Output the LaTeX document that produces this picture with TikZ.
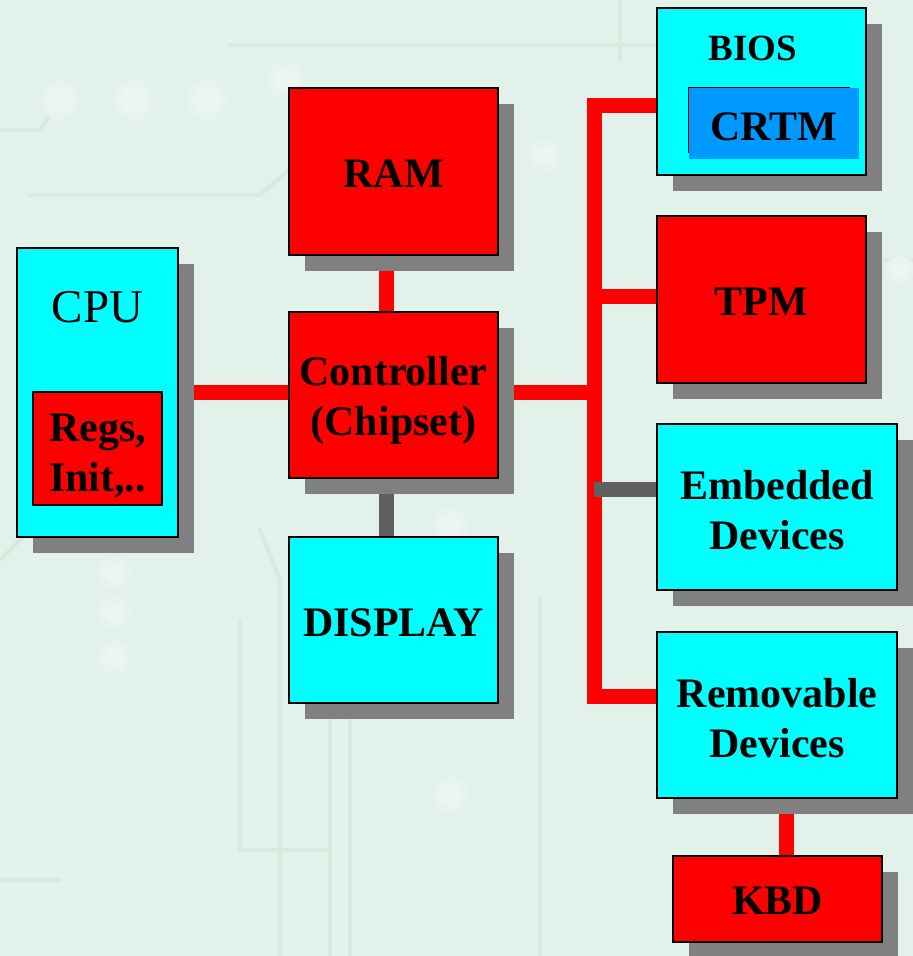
\documentclass[tikz,border=0pt]{standalone}
\usepackage{fontspec}
\setmainfont{Liberation Serif}
\usetikzlibrary{shadows,calc}
\pgfdeclarelayer{bg}
\pgfdeclarelayer{conn}
\pgfsetlayers{bg,conn,main}
\definecolor{bgc}{RGB}{226,242,234}
\definecolor{tracec}{RGB}{217,233,224}
\definecolor{padc}{RGB}{236,246,240}
\definecolor{padhalo}{RGB}{231,244,237}
\definecolor{cyanc}{RGB}{0,255,255}
\definecolor{redc}{RGB}{255,0,0}
\definecolor{crtmc}{RGB}{0,153,255}
\definecolor{shadowc}{RGB}{128,128,128}
\definecolor{grayline}{RGB}{96,96,96}
\begin{document}
\begin{tikzpicture}[x=1pt,y=-1pt,
  txt/.style={font=\fontsize{42}{50}\selectfont\bfseries, align=center, inner sep=0pt},
  plainbox/.style={draw=black, line width=1.3pt, rectangle, inner sep=0pt},
  box/.style={plainbox, general shadow={fill=shadowc, shadow xshift=16pt, shadow yshift=-16pt}},
  redbus/.style={draw=redc, line width=15pt, line join=miter},
  graybus/.style={draw=grayline, line width=15pt},
  trace/.style={draw=tracec, line width=4pt, line cap=round, line join=round},
  pad/.style={fill=padc, draw=padhalo, line width=6pt}
]
\useasboundingbox (0,0) rectangle (913,956);
\begin{pgfonlayer}{bg}
  \fill[bgc] (0,0) rectangle (913,956);
  % faint circuit-board texture
  \draw[trace] (230,45) -- (660,45);
  \draw[trace] (30,195) -- (260,195) -- (300,160);
  \draw[trace] (0,130) -- (40,130) -- (60,100);
  \draw[trace] (0,560) -- (60,500);
  \draw[trace] (240,620) -- (240,850) -- (330,850);
  \draw[trace] (260,530) -- (280,580) -- (280,956);
  \draw[trace] (330,700) -- (330,956);
  \draw[trace] (350,700) -- (350,956);
  \draw[trace] (540,600) -- (540,956);
  \draw[trace] (620,0) -- (620,60);
  \draw[trace] (0,880) -- (60,880);
  \draw[trace] (880,260) -- (913,260);
  \filldraw[pad] (60,100) circle (17);
  \filldraw[pad] (133,100) circle (17);
  \filldraw[pad] (207,100) circle (17);
  \filldraw[pad] (285,80) circle (15);
  \filldraw[pad] (114,573) circle (13);
  \filldraw[pad] (114,613) circle (13);
  \filldraw[pad] (114,657) circle (13);
  \filldraw[pad] (450,525) circle (15);
  \filldraw[pad] (450,795) circle (15);
  \filldraw[pad] (545,155) circle (13);
  \filldraw[pad] (900,270) circle (11);
\end{pgfonlayer}

% boxes
\node[box, fill=cyanc, minimum width=161pt, minimum height=289pt] (cpu) at (97.5,392.5) {};
\node[font=\fontsize{47}{50}\selectfont, anchor=base] (cpulbl) at (97.5,322) {CPU};
\node[plainbox, fill=redc, minimum width=129pt, minimum height=113pt] (regs) at (97.5,448.5) {};
\node[txt] (regslbl) at (97.5,456) {Regs,\\Init,..};

\node[box, fill=redc, minimum width=209pt, minimum height=167pt,
  label={[txt, yshift=-2pt]center:RAM}] (ram) at (393.5,171.5) {};
\node[box, fill=redc, minimum width=209pt, minimum height=166pt,
  label={[txt, yshift=-5pt]center:Controller\\(Chipset)}] (ctrl) at (393.5,395) {};
\node[box, fill=cyanc, minimum width=209pt, minimum height=166pt,
  label={[txt, yshift=-3pt]center:DISPLAY}] (disp) at (393.5,620) {};

\node[box, fill=cyanc, minimum width=209pt, minimum height=167pt] (bios) at (761.5,91.5) {};
\node[font=\fontsize{37}{40}\selectfont\bfseries, anchor=base] (bioslbl) at (753,60) {BIOS};
\node[rectangle, fill=crtmc, inner sep=0pt, minimum width=170pt, minimum height=71pt,
  label={[txt, yshift=-3pt]center:CRTM}] (crtm) at (774,123.5) {};
\draw[line width=1.3pt] ($(crtm.south west)+(0,-6)$) -- (crtm.north west) -- ($(crtm.north east)+(-9,0)$);

\node[box, fill=redc, minimum width=209pt, minimum height=167pt,
  label={[txt, yshift=-2pt]center:TPM}] (tpm) at (761.5,299.5) {};
\node[box, fill=cyanc, minimum width=240pt, minimum height=166pt,
  label={[txt, yshift=-3pt]center:Embedded\\Devices}] (emb) at (777,507) {};
\node[box, fill=cyanc, minimum width=240pt, minimum height=166pt,
  label={[txt, yshift=-3pt]center:Removable\\Devices}] (rem) at (777,715) {};
\node[box, fill=redc, minimum width=209pt, minimum height=86pt,
  label={[txt, yshift=-2pt]center:KBD}] (kbd) at (777.5,899) {};

% connectors
\coordinate (bustop) at (594,105);
\coordinate (busbot) at (594,696);
\begin{pgfonlayer}{conn}
  \draw[redbus] (bios.west |- bustop) -- (bustop) -- (busbot) -- (rem.west |- busbot);
  \draw[redbus] ($(tpm.west)+(0,-3)$) -- ($(tpm.west -| bustop)+(0,-3)$);
  \draw[redbus] ($(ctrl.east)+(0,-2.5)$) -- ($(ctrl.east -| bustop)+(0,-2.5)$);
  \draw[redbus] (cpu.east) -- (ctrl.west |- cpu.east);
  \draw[redbus] ($(ram.south)+(-7.5,0)$) -- ($(ctrl.north)+(-7.5,0)$);
  \draw[graybus] ($(ctrl.south)+(-7.5,0)$) -- ($(disp.north)+(-7.5,0)$);
  \draw[graybus] ($(emb.west)+(0,-18)$) -- ($(emb.west -| bustop)+(0,-18)$);
  \draw[redbus] ($(rem.south)+(9,0)$) -- ($(kbd.north)+(8.5,0)$);
\end{pgfonlayer}
\end{tikzpicture}
\end{document}
